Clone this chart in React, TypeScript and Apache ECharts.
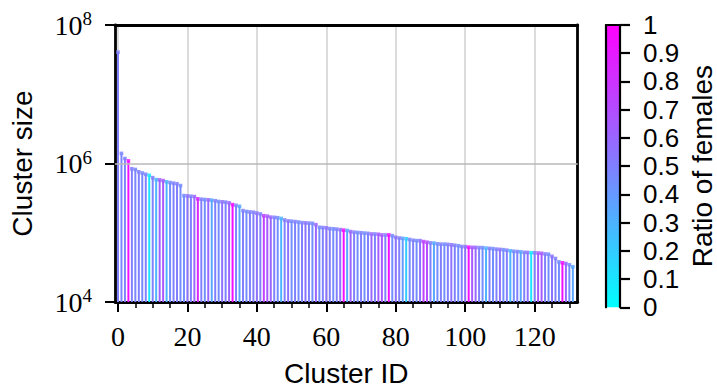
import React, { useEffect, useRef } from "react";
import * as echarts from "echarts";

const clusterSizes = [
  4.05e7, 1.4e6, 1.18e6, 1.09e6, 8.4e5, 8.2e5, 7.6e5, 7.3e5, 7.0e5, 6.76e5,
  6.25e5, 5.86e5, 5.8e5, 5.67e5, 5.44e5, 5.32e5, 5.2e5, 5.1e5, 4.8e5, 3.44e5,
  3.41e5, 3.37e5, 3.33e5, 3.09e5, 3.05e5, 3.02e5, 2.99e5, 2.96e5, 2.9e5, 2.83e5,
  2.8e5, 2.77e5, 2.71e5, 2.55e5, 2.49e5, 2.41e5, 2.09e5, 2.03e5, 2.0e5, 1.98e5,
  1.92e5, 1.87e5, 1.76e5, 1.74e5, 1.68e5, 1.67e5, 1.65e5, 1.61e5, 1.53e5, 1.48e5,
  1.47e5, 1.45e5, 1.43e5, 1.4e5, 1.39e5, 1.38e5, 1.37e5, 1.31e5, 1.2e5, 1.19e5,
  1.18e5, 1.15e5, 1.14e5, 1.13e5, 1.11e5, 1.09e5, 1.08e5, 1.04e5, 1.02e5, 1.01e5,
  1.0e5, 9.9e4, 9.8e4, 9.6e4, 9.6e4, 9.5e4, 9.3e4, 9.3e4, 9.3e4, 9.07e4,
  8.6e4, 8.4e4, 8.3e4, 8.2e4, 8.0e4, 7.8e4, 7.7e4, 7.7e4, 7.46e4, 7.3e4,
  7.15e4, 7.1e4, 6.92e4, 6.85e4, 6.85e4, 6.8e4, 6.7e4, 6.6e4, 6.5e4, 6.34e4,
  6.3e4, 6.2e4, 6.15e4, 6.15e4, 6.1e4, 6.1e4, 6.0e4, 5.95e4, 5.9e4, 5.8e4,
  5.75e4, 5.7e4, 5.6e4, 5.5e4, 5.4e4, 5.35e4, 5.3e4, 5.21e4, 5.2e4, 5.15e4,
  5.15e4, 5.1e4, 5.05e4, 4.95e4, 4.9e4, 4.57e4, 4.25e4, 3.8e4, 3.68e4, 3.6e4,
  3.45e4, 3.23e4,
];

const femaleRatios = [
  0.5, 0.48, 0.5, 0.95, 0.5, 0.48, 0.5, 0.47, 0.5, 0.1,
  0.5, 0.3, 0.62, 0.65, 0.3, 0.45, 0.5, 0.5, 0.45, 0.45,
  0.55, 0.5, 0.6, 0.85, 0.5, 0.45, 0.6, 0.35, 0.5, 0.45,
  0.55, 0.5, 0.6, 0.95, 0.5, 0.35, 0.5, 0.45, 0.5, 0.5,
  0.55, 0.5, 0.75, 0.65, 0.6, 0.5, 0.45, 0.3, 0.5, 0.55,
  0.45, 0.5, 0.45, 0.5, 0.55, 0.5, 0.45, 0.6, 0.45, 0.5,
  0.55, 0.5, 0.45, 0.5, 0.55, 0.95, 0.35, 0.6, 0.5, 0.45,
  0.5, 0.45, 0.5, 0.6, 0.5, 0.65, 0.65, 0.5, 0.95, 0.45,
  0.55, 0.5, 0.4, 0.2, 0.45, 0.5, 0.45, 0.55, 0.75, 0.7,
  0.5, 0.35, 0.45, 0.5, 0.45, 0.5, 0.55, 0.5, 0.45, 0.5,
  0.55, 0.95, 0.65, 0.6, 0.5, 0.45, 0.3, 0.5, 0.45, 0.5,
  0.55, 0.45, 0.5, 0.3, 0.45, 0.5, 0.35, 0.5, 0.55, 0.1,
  0.5, 0.65, 0.65, 0.5, 0.45, 0.55, 0.5, 0.45, 0.95, 0.6,
  0.45, 0.35,
];

const clusterIds = clusterSizes.map((_, i) => i);

const xMajorTicks = [0, 20, 40, 60, 80, 100, 120];
const xMinorTicks = [5, 10, 15, 25, 30, 35, 45, 50, 55, 65, 70, 75, 85, 90, 95, 105, 110, 115, 125, 130];
const yTicks = [1e4, 1e6, 1e8];
const colorbarTicks = [0, 0.1, 0.2, 0.3, 0.4, 0.5, 0.6, 0.7, 0.8, 0.9, 1];

const X_MIN = -0.86;
const X_MAX = 132.4;
const Y_MIN = 1e4;
const Y_MAX = 1e8;

const PLOT = { left: 111, top: 25, width: 466.7, height: 282.7 };
const CBAR = { left: 606, top: 25, width: 14, height: 282.3 };

function coolColor(t: number): string {
  const r = Math.round(255 * t);
  const g = Math.round(255 * (1 - t));
  return `rgb(${r},${g},255)`;
}

export default function App() {
  const ref = useRef<HTMLDivElement>(null);

  useEffect(() => {
    document.body.style.margin = "0";
    if (!ref.current) return;
    const chart = echarts.init(ref.current, null, { renderer: "svg" });

    const serif = "Liberation Serif";
    const sans = "Liberation Sans";
    const black = { color: "#000", width: 2.8 };
    const hidden = { show: false };

    const option: any = {
      animation: false,
      backgroundColor: "#ffffff",
      grid: [
        { ...PLOT, show: false },
        { ...CBAR, show: false },
      ],
      xAxis: [
        {
          gridIndex: 0,
          type: "value",
          position: "bottom",
          min: X_MIN,
          max: X_MAX,
          minInterval: 20,
          maxInterval: 20,
          axisLine: { show: true, onZero: false, lineStyle: black },
          axisTick: { show: true, customValues: xMajorTicks, length: 10, lineStyle: { color: "#000", width: 2 } },
          axisLabel: { customValues: xMajorTicks, fontFamily: serif, fontSize: 28, color: "#000", margin: 20 },
          splitLine: { show: true, lineStyle: { color: "#d0d0d0", width: 1.5 } },
          name: "Cluster ID",
          nameLocation: "middle",
          nameGap: 57,
          nameTextStyle: { fontFamily: sans, fontSize: 28, color: "#000" },
        },
        {
          gridIndex: 0,
          type: "value",
          position: "bottom",
          min: X_MIN,
          max: X_MAX,
          axisLine: { show: false, onZero: false },
          axisTick: { show: true, customValues: xMinorTicks, length: 6, lineStyle: { color: "#000", width: 1.5 } },
          axisLabel: hidden,
          splitLine: hidden,
        },
        { gridIndex: 1, type: "value", min: 0, max: 1, position: "bottom", axisLine: hidden, axisTick: hidden, axisLabel: hidden, splitLine: hidden },
        {
          gridIndex: 0,
          type: "value",
          position: "top",
          min: X_MIN,
          max: X_MAX,
          axisLine: { show: true, onZero: false, lineStyle: black },
          axisTick: hidden,
          axisLabel: hidden,
          splitLine: hidden,
        },
        {
          gridIndex: 1,
          type: "value",
          position: "top",
          min: 0,
          max: 1,
          axisLine: { show: true, onZero: false, lineStyle: { color: "#000", width: 2.2 } },
          axisTick: hidden,
          axisLabel: hidden,
          splitLine: hidden,
        },
      ],
      yAxis: [
        {
          gridIndex: 0,
          type: "log",
          logBase: 10,
          position: "left",
          min: Y_MIN,
          max: Y_MAX,
          axisLine: { show: true, onZero: false, lineStyle: black },
          axisTick: { show: true, customValues: yTicks, length: 10, lineStyle: { color: "#000", width: 2 } },
          axisLabel: {
            customValues: yTicks,
            margin: 23,
            color: "#000",
            formatter: (v: number) => `{b|10}{s|${Math.round(Math.log10(v))}}`,
            rich: {
              b: { fontFamily: serif, fontSize: 28, lineHeight: 28, color: "#000" },
              s: { fontFamily: serif, fontSize: 19, lineHeight: 28, padding: [0, 0, 13, 0], color: "#000" },
            },
          },
          splitLine: hidden,
          name: "Cluster size",
          nameLocation: "middle",
          nameGap: 79,
          nameTextStyle: { fontFamily: sans, fontSize: 28, color: "#000" },
        },
        {
          gridIndex: 1,
          type: "value",
          position: "right",
          min: 0,
          max: 1,
          interval: 0.1,
          axisLine: { show: true, onZero: false, lineStyle: { color: "#000", width: 2.2 } },
          axisTick: { show: true, inside: false, length: 10, lineStyle: { color: "#000", width: 2.2 } },
          axisLabel: {
            fontFamily: sans,
            fontSize: 26,
            color: "#000",
            margin: 23,
            formatter: (v: number) => (v === 0 ? "0" : v === 1 ? "1" : v.toFixed(1)),
          },
          splitLine: hidden,
          name: "Ratio of females",
          nameLocation: "middle",
          nameGap: 68,
          nameTextStyle: { fontFamily: sans, fontSize: 28, color: "#000" },
        },
        {
          gridIndex: 0,
          type: "log",
          logBase: 10,
          position: "right",
          min: Y_MIN,
          max: Y_MAX,
          axisLine: { show: true, onZero: false, lineStyle: black },
          axisTick: hidden,
          axisLabel: hidden,
          splitLine: hidden,
        },
        {
          gridIndex: 1,
          type: "value",
          position: "left",
          min: 0,
          max: 1,
          axisLine: { show: true, onZero: false, lineStyle: { color: "#000", width: 2.2 } },
          axisTick: hidden,
          axisLabel: hidden,
          splitLine: hidden,
        },
      ],
      series: [
        {
          type: "line",
          xAxisIndex: 0,
          yAxisIndex: 0,
          data: [],
          z: 1,
          markLine: {
            silent: true,
            symbol: "none",
            label: hidden,
            lineStyle: { color: "#b8b8b8", width: 1.5, type: "solid" },
            data: [{ yAxis: yTicks[1] }],
          },
        },
        {
          type: "custom",
          xAxisIndex: 0,
          yAxisIndex: 0,
          z: 3,
          clip: true,
          data: clusterIds.map((id, k) => [id, clusterSizes[k], femaleRatios[k]]),
          encode: { x: 0, y: 1 },
          renderItem: (params: any, api: any) => {
            const x = api.value(0);
            const v = api.value(1);
            const r = api.value(2);
            const top = api.coord([x, v]);
            const bottom = api.coord([x, Y_MIN]);
            const color = coolColor(r);
            return {
              type: "group",
              children: [
                { type: "line", shape: { x1: top[0], y1: bottom[1], x2: top[0], y2: top[1] }, style: { stroke: color, lineWidth: 2 } },
                { type: "rect", shape: { x: top[0] - 1.8, y: top[1] - 1.8, width: 3.6, height: 3.6 }, style: { fill: color, opacity: 0.85 } },
              ],
            };
          },
        },
        {
          type: "custom",
          xAxisIndex: 2,
          yAxisIndex: 1,
          clip: false,
          z: 0,
          data: [[0, 0]],
          renderItem: (params: any, api: any) => {
            const p0 = api.coord([0, 0]);
            const p1 = api.coord([1, 1]);
            return {
              type: "rect",
              z2: -10,
              shape: { x: p0[0], y: p1[1], width: p1[0] - p0[0], height: p0[1] - p1[1] },
              style: {
                fill: new echarts.graphic.LinearGradient(0, 1, 0, 0, [
                  { offset: 0, color: coolColor(0) },
                  { offset: 1, color: coolColor(1) },
                ]),
              },
            };
          },
        },
      ],
    };

    chart.setOption(option);
    return () => chart.dispose();
  }, []);

  return <div ref={ref} style={{ width: 717, height: 392 }} />;
}
